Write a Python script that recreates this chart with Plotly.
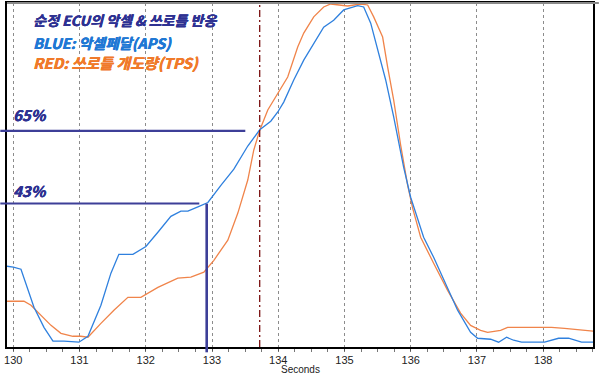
import plotly.graph_objects as go

# ---- data ----
aps_t = [129.905, 130.0, 130.116, 130.222, 130.312, 130.463, 130.599, 130.765, 130.991, 131.127,
         131.323, 131.474, 131.594, 131.806, 132.002, 132.183, 132.379, 132.53, 132.636, 132.787,
         132.938, 133.134, 133.33, 133.54, 133.721, 133.887, 133.993, 134.083, 134.234, 134.385,
         134.536, 134.686, 134.837, 134.988, 135.2, 135.29, 135.396, 135.501, 135.622, 135.743,
         135.893, 135.999, 136.195, 136.346, 136.557, 136.708, 136.904, 137.01, 137.206, 137.327,
         137.448, 137.553, 137.674, 137.87, 138.021, 138.232, 138.383, 138.579, 138.775]
aps_v = [24.0, 23.7, 23.1, 16.7, 11.6, 5.5, 1.3, 1.3, 1.0, 2.8,
         12.2, 21.9, 27.6, 27.6, 30.0, 34.3, 39.1, 40.7, 40.7, 42.0,
         43.3, 48.5, 53.4, 60.4, 65.3, 67.9, 70.7, 73.7, 80.4, 86.4,
         91.6, 96.4, 98.5, 101.6, 102.9, 102.5, 97.6, 89.5, 80.4, 69.2,
         54.0, 44.9, 32.8, 26.7, 17.6, 10.7, 4.0, 2.2, 1.9, 1.0,
         2.5, 1.6, 1.0, 1.0, 1.0, 2.2, 2.2, 1.0, 1.0]

tps_t = [129.905, 130.161, 130.267, 130.373, 130.569, 130.719, 130.9, 131.021, 131.127, 131.323,
         131.519, 131.73, 131.926, 132.183, 132.484, 132.681, 132.877, 133.028, 133.239, 133.39,
         133.54, 133.631, 133.721, 133.842, 133.993, 134.143, 134.294, 134.385, 134.536, 134.686,
         134.792, 134.943, 135.048, 135.244, 135.35, 135.441, 135.576, 135.652, 135.743, 135.848,
         135.954, 136.029, 136.15, 136.346, 136.557, 136.753, 136.904, 137.055, 137.161, 137.357,
         137.463, 137.674, 137.93, 138.126, 138.322, 138.579, 138.775]
tps_v = [13.4, 13.4, 12.2, 10.1, 6.1, 3.7, 2.8, 2.8, 2.5, 6.7,
         10.7, 14.6, 14.6, 17.6, 20.4, 20.7, 22.2, 25.8, 31.9, 40.1,
         50.1, 59.2, 65.2, 71.3, 76.4, 81.3, 90.4, 94.6, 99.5, 102.5,
         103.4, 103.1, 102.8, 103.4, 103.1, 99.5, 93.4, 84.3, 74.3, 60.7,
         48.5, 41.6, 32.8, 24.9, 16.7, 9.8, 6.1, 4.6, 4.0, 4.6,
         5.5, 5.5, 5.5, 5.5, 5.2, 4.6, 4.3]

tick_vals = [130, 131, 132, 133, 134, 135, 136, 137, 138]
tick_text = [str(v) for v in tick_vals]
x_title = "Seconds"
marker_time = 133.72
level_high = 65
level_low = 43
level_low_time = 132.92

title_lines = ["순정 ECU의 악셀 & 쓰로틀 반응", "BLUE: 악셀페달(APS)", "RED: 쓰로틀 개도량(TPS)"]
level_labels = ["65%", "43%"]

NAVY = "#2e3192"
BLUE = "#2f80de"
ORANGE = "#f0844a"
KFONT = "Noto Sans CJK KR"

fig = go.Figure()
fig.add_trace(go.Scatter(x=tps_t, y=tps_v, mode="lines",
                         line=dict(color=ORANGE, width=1.3), hoverinfo="skip"))
fig.add_trace(go.Scatter(x=aps_t, y=aps_v, mode="lines",
                         line=dict(color=BLUE, width=1.3), hoverinfo="skip"))

# plot area geometry: left 6.7px, right 592.7px, top 3px, bottom 346.7px
L, R, T, B = 6.7, 592.7, 3.0, 346.7
W, H = R - L, B - T

def px_x(p):
    return (p - L) / W

def px_y(p):
    return (B - p) / H

shapes = []
shapes.append(dict(type="line", xref="x", yref="paper", x0=marker_time, x1=marker_time,
                   y0=0, y1=1, line=dict(color="#7a1010", width=1.3, dash="7px,3px,2px,3px"),
                   layer="above"))
shapes.append(dict(type="line", xref="paper", yref="y", x0=px_x(0), x1=px_x(245),
                   y0=level_high, y1=level_high, line=dict(color="#3d3f98", width=2.2),
                   layer="above"))
shapes.append(dict(type="line", xref="paper", yref="y", x0=px_x(0), x1=px_x(199),
                   y0=level_low, y1=level_low, line=dict(color="#3d3f98", width=2.2),
                   layer="above"))
shapes.append(dict(type="line", xref="x", yref="paper", x0=level_low_time, x1=level_low_time,
                   y0=px_y(352), y1=px_y(203.5), line=dict(color="#3d3f98", width=2.6),
                   layer="above"))
shapes.append(dict(type="line", xref="paper", yref="paper", x0=0, x1=1.01, y0=1, y1=1,
                   line=dict(color="#8a8a8a", width=2), layer="above"))

def bold_shadow(col):
    return f"0.5px 0 0 {col}, 0 0.3px 0 {col}"

annotations = []
sizes = [14, 14.5, 15]
colors = [NAVY, "#1f78d4", "#f07a2a"]
ys = [20, 42, 62]
for txt, sz, col, yy in zip(title_lines, sizes, colors, ys):
    annotations.append(dict(text=txt, xref="paper", yref="paper", x=px_x(31), y=px_y(yy),
                            xanchor="left", yanchor="middle", showarrow=False,
                            font=dict(family=KFONT, size=sz, color=col, weight="bold",
                                      style="italic", shadow=bold_shadow(col))))
for txt, yy in zip(level_labels, [114, 190]):
    annotations.append(dict(text=txt, xref="paper", yref="paper", x=px_x(11), y=px_y(yy),
                            xanchor="left", yanchor="middle", showarrow=False,
                            font=dict(family=KFONT, size=15, color=NAVY, weight="bold",
                                      style="italic", shadow=bold_shadow(NAVY))))
# x-axis title placed as annotation below the tick labels
annotations.append(dict(text=x_title, xref="paper", yref="paper", x=0.5, y=px_y(369.5),
                        xanchor="center", yanchor="middle", showarrow=False,
                        font=dict(family="Liberation Sans", size=10, color="#222")))

fig.update_layout(
    width=600, height=375,
    margin=dict(l=L, r=600 - R, t=T, b=375 - B, autoexpand=False),
    paper_bgcolor="white", plot_bgcolor="white",
    showlegend=False,
    shapes=shapes,
    annotations=annotations,
    xaxis=dict(range=[129.905, 138.752], tickmode="array", tickvals=tick_vals, ticktext=tick_text,
               showgrid=True, gridcolor="#8c8c8c", gridwidth=1, griddash="3px,3px",
               showline=True, linecolor="black", linewidth=2, mirror=True,
               ticks="outside", ticklen=2, tickcolor="#555", ticklabelstandoff=0,
               automargin=False,
               minor=dict(dtick=0.25, tick0=130, ticks="outside", ticklen=3, tickcolor="#777",
                          showgrid=False),
               tickfont=dict(family="Liberation Sans", size=11, color="#222"),
               zeroline=False, fixedrange=True),
    yaxis=dict(range=[-0.45, 103.7], showgrid=False, showticklabels=False, ticks="",
               showline=True, linecolor="black", linewidth=2, mirror=True,
               automargin=False, zeroline=False, fixedrange=True),
)

fig.write_html("out.html", config={"displayModeBar": False},
               post_script="document.body.style.margin='0';document.body.style.padding='0';")
